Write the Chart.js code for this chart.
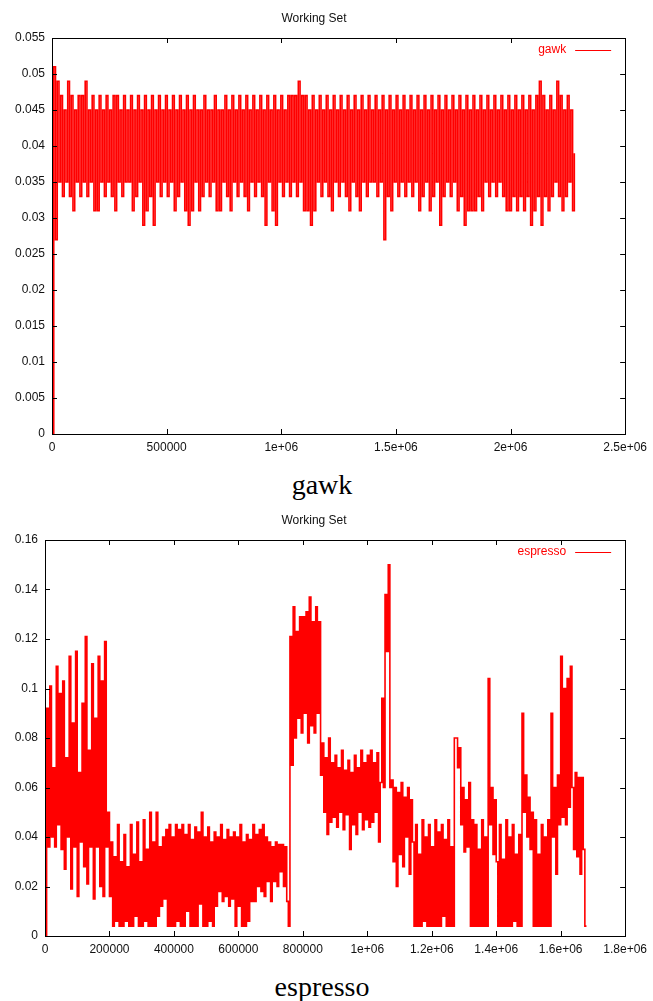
<!DOCTYPE html>
<html>
<head>
<meta charset="utf-8">
<title>Working Set</title>
<script src="https://cdn.jsdelivr.net/npm/chart.js@4.4.1/dist/chart.umd.min.js"></script>
<style>
body { margin: 0; background: #fff; width: 653px; height: 1001px; overflow: hidden; position: relative; }
canvas { position: absolute; left: 0; }
#gawkChart { top: 0; }
#espressoChart { top: 502px; }
.caption { position: absolute; left: 0; width: 644px; text-align: center; font-family: "Liberation Serif", "Times New Roman", serif; font-size: 28px; line-height: 28px; color: #000; }
</style>
</head>
<body>
<canvas id="gawkChart" width="653" height="460"></canvas>
<div class="caption" style="top:471px">gawk</div>
<canvas id="espressoChart" width="653" height="460"></canvas>
<div class="caption" style="top:973px">espresso</div>
<script>
// gawk working set, one sample every 7620 references
var gawkStep = 7620;
var gawkValues = [
    0, 0.051, 0.027, 0.049, 0.035, 0.047, 0.033, 0.045, 0.035, 0.049,
    0.033, 0.047, 0.031, 0.045, 0.035, 0.047, 0.033, 0.047, 0.035, 0.049,
    0.033, 0.045, 0.035, 0.047, 0.031, 0.045, 0.031, 0.047, 0.035, 0.045,
    0.033, 0.047, 0.035, 0.045, 0.033, 0.047, 0.031, 0.047, 0.035, 0.045,
    0.033, 0.047, 0.035, 0.045, 0.035, 0.047, 0.031, 0.045, 0.033, 0.047,
    0.035, 0.045, 0.029, 0.047, 0.031, 0.045, 0.033, 0.047, 0.029, 0.045,
    0.035, 0.047, 0.033, 0.045, 0.035, 0.047, 0.033, 0.045, 0.035, 0.047,
    0.031, 0.045, 0.033, 0.047, 0.035, 0.045, 0.031, 0.047, 0.029, 0.045,
    0.031, 0.047, 0.035, 0.045, 0.031, 0.045, 0.033, 0.047, 0.035, 0.045,
    0.033, 0.045, 0.035, 0.047, 0.031, 0.045, 0.031, 0.045, 0.035, 0.047,
    0.033, 0.045, 0.031, 0.047, 0.035, 0.045, 0.033, 0.047, 0.035, 0.045,
    0.033, 0.047, 0.031, 0.045, 0.035, 0.047, 0.033, 0.045, 0.035, 0.047,
    0.033, 0.045, 0.029, 0.047, 0.035, 0.045, 0.031, 0.047, 0.029, 0.045,
    0.035, 0.047, 0.033, 0.045, 0.035, 0.047, 0.033, 0.047, 0.035, 0.047,
    0.033, 0.049, 0.035, 0.047, 0.031, 0.047, 0.031, 0.045, 0.029, 0.047,
    0.031, 0.045, 0.035, 0.047, 0.033, 0.045, 0.035, 0.047, 0.033, 0.045,
    0.031, 0.047, 0.035, 0.045, 0.033, 0.047, 0.035, 0.045, 0.033, 0.047,
    0.031, 0.045, 0.035, 0.047, 0.033, 0.045, 0.031, 0.047, 0.035, 0.045,
    0.033, 0.047, 0.035, 0.045, 0.035, 0.047, 0.033, 0.045, 0.035, 0.047,
    0.027, 0.045, 0.033, 0.047, 0.031, 0.045, 0.035, 0.047, 0.033, 0.045,
    0.035, 0.047, 0.033, 0.045, 0.035, 0.047, 0.033, 0.045, 0.035, 0.047,
    0.031, 0.045, 0.033, 0.047, 0.035, 0.045, 0.031, 0.047, 0.033, 0.045,
    0.035, 0.047, 0.029, 0.045, 0.033, 0.047, 0.035, 0.045, 0.033, 0.047,
    0.035, 0.045, 0.031, 0.047, 0.033, 0.045, 0.029, 0.047, 0.031, 0.045,
    0.031, 0.047, 0.031, 0.045, 0.033, 0.047, 0.031, 0.045, 0.035, 0.047,
    0.033, 0.045, 0.035, 0.047, 0.033, 0.045, 0.035, 0.047, 0.033, 0.045,
    0.031, 0.047, 0.031, 0.045, 0.033, 0.047, 0.031, 0.045, 0.033, 0.047,
    0.031, 0.045, 0.033, 0.047, 0.029, 0.045, 0.031, 0.047, 0.033, 0.049,
    0.029, 0.047, 0.033, 0.045, 0.031, 0.047, 0.033, 0.045, 0.035, 0.049,
    0.033, 0.047, 0.031, 0.045, 0.033, 0.047, 0.035, 0.045, 0.031, 0.039
];
var gawkXTicks = [0, 500000, 1000000, 1500000, 2000000, 2500000];
var gawkXLabels = ['0', '500000', '1e+06', '1.5e+06', '2e+06', '2.5e+06'];
var gawkYTicks = [0, 0.005, 0.01, 0.015, 0.02, 0.025, 0.03, 0.035, 0.04, 0.045, 0.05, 0.055];
var gawkYLabels = ['0', '0.005', '0.01', '0.015', '0.02', '0.025', '0.03', '0.035', '0.04', '0.045', '0.05', '0.055'];

// espresso working set, one sample every 5000 references
var espressoStep = 5000;
var espressoValues = [
    0, 0.092, 0.036, 0.101, 0.04, 0.068, 0.036, 0.109, 0.045, 0.098,
    0.035, 0.103, 0.027, 0.072, 0.04, 0.113, 0.019, 0.086, 0.036, 0.115,
    0.016, 0.066, 0.038, 0.094, 0.028, 0.121, 0.021, 0.075, 0.036, 0.11,
    0.015, 0.088, 0.036, 0.113, 0.02, 0.103, 0.016, 0.119, 0.036, 0.05,
    0.016, 0.038, 0.004, 0.032, 0.006, 0.045, 0.004, 0.03, 0.004, 0.041,
    0.006, 0.028, 0.004, 0.045, 0.004, 0.033, 0.008, 0.046, 0.004, 0.03,
    0.004, 0.047, 0.006, 0.035, 0.004, 0.05, 0.004, 0.038, 0.004, 0.05,
    0.008, 0.036, 0.012, 0.04, 0.015, 0.043, 0.004, 0.045, 0.004, 0.04,
    0.004, 0.045, 0.006, 0.043, 0.004, 0.045, 0.004, 0.041, 0.01, 0.045,
    0.004, 0.039, 0.004, 0.044, 0.004, 0.042, 0.013, 0.05, 0.004, 0.04,
    0.004, 0.044, 0.006, 0.038, 0.004, 0.042, 0.012, 0.04, 0.018, 0.045,
    0.014, 0.039, 0.016, 0.043, 0.012, 0.04, 0.015, 0.042, 0.004, 0.04,
    0.012, 0.045, 0.004, 0.038, 0.004, 0.041, 0.006, 0.039, 0.014, 0.045,
    0.014, 0.041, 0.02, 0.043, 0.018, 0.045, 0.016, 0.04, 0.022, 0.038,
    0.014, 0.036, 0.022, 0.038, 0.02, 0.037, 0.026, 0.037, 0.02, 0.036,
    0.014, 0.004, 0.121, 0.069, 0.133, 0.08, 0.123, 0.088, 0.129, 0.082,
    0.129, 0.09, 0.131, 0.078, 0.137, 0.085, 0.127, 0.082, 0.133, 0.09,
    0.127, 0.065, 0.078, 0.05, 0.072, 0.041, 0.08, 0.046, 0.07, 0.048,
    0.073, 0.044, 0.068, 0.05, 0.075, 0.043, 0.067, 0.049, 0.071, 0.035,
    0.066, 0.045, 0.073, 0.041, 0.068, 0.05, 0.075, 0.043, 0.07, 0.047,
    0.073, 0.044, 0.075, 0.046, 0.07, 0.05, 0.074, 0.038, 0.062, 0.096,
    0.06, 0.138, 0.115, 0.15, 0.06, 0.063, 0.03, 0.06, 0.02, 0.058,
    0.033, 0.062, 0.028, 0.056, 0.04, 0.06, 0.025, 0.055, 0.038, 0.004,
    0.045, 0.004, 0.033, 0.004, 0.047, 0.006, 0.04, 0.004, 0.045, 0.004,
    0.036, 0.004, 0.047, 0.004, 0.042, 0.004, 0.045, 0.008, 0.039, 0.004,
    0.047, 0.004, 0.036, 0.004, 0.08, 0.08, 0.068, 0.076, 0.045, 0.06,
    0.034, 0.055, 0.036, 0.062, 0.004, 0.047, 0.004, 0.045, 0.004, 0.035,
    0.004, 0.047, 0.004, 0.04, 0.004, 0.104, 0.045, 0.06, 0.033, 0.055,
    0.03, 0.004, 0.045, 0.004, 0.031, 0.004, 0.047, 0.004, 0.04, 0.004,
    0.045, 0.006, 0.033, 0.004, 0.041, 0.004, 0.09, 0.05, 0.065, 0.04,
    0.056, 0.035, 0.05, 0.004, 0.047, 0.004, 0.033, 0.004, 0.045, 0.004,
    0.04, 0.004, 0.047, 0.004, 0.09, 0.04, 0.06, 0.025, 0.065, 0.045,
    0.113, 0.048, 0.1, 0.045, 0.104, 0.052, 0.109, 0.06, 0.035, 0.066,
    0.032, 0.064, 0.025, 0.064, 0.035, 0.004, 0.004
];
var espressoXTicks = [0, 200000, 400000, 600000, 800000, 1000000, 1200000, 1400000, 1600000, 1800000];
var espressoXLabels = ['0', '200000', '400000', '600000', '800000', '1e+06', '1.2e+06', '1.4e+06', '1.6e+06', '1.8e+06'];
var espressoYTicks = [0, 0.02, 0.04, 0.06, 0.08, 0.1, 0.12, 0.14, 0.16];
var espressoYLabels = ['0', '0.02', '0.04', '0.06', '0.08', '0.1', '0.12', '0.14', '0.16'];

var textFont = { family: 'Liberation Sans', size: 12, weight: 'normal' };

// gnuplot style box: border, inward ticks on all four sides, key in the top right corner
var frame = {
    id: 'frame',
    afterDatasetsDraw: function (chart, args, opts) {
        var ctx = chart.ctx, a = chart.chartArea, x = chart.scales.x, y = chart.scales.y;
        ctx.save();
        ctx.strokeStyle = '#000';
        ctx.lineWidth = 1;
        ctx.beginPath();
        x.ticks.forEach(function (t) {
            var px = Math.round(x.getPixelForValue(t.value)) + 0.5;
            ctx.moveTo(px, a.bottom); ctx.lineTo(px, a.bottom - 5);
            ctx.moveTo(px, a.top); ctx.lineTo(px, a.top + 5);
        });
        y.ticks.forEach(function (t) {
            var py = Math.round(y.getPixelForValue(t.value)) + 0.5;
            ctx.moveTo(a.left, py); ctx.lineTo(a.left + 5, py);
            ctx.moveTo(a.right, py); ctx.lineTo(a.right - 5, py);
        });
        ctx.stroke();
        ctx.strokeRect(Math.round(a.left) + 0.5, Math.round(a.top) + 0.5,
            Math.round(a.right - a.left), Math.round(a.bottom - a.top));

        ctx.fillStyle = '#ff0000';
        ctx.font = '12px "Liberation Sans"';
        ctx.textAlign = 'right';
        ctx.textBaseline = 'middle';
        ctx.fillText(opts.label, a.right - 59, a.top + 12);
        ctx.strokeStyle = '#ff0000';
        ctx.beginPath();
        ctx.moveTo(a.right - 50, a.top + 12.5);
        ctx.lineTo(a.right - 14, a.top + 12.5);
        ctx.stroke();
        ctx.restore();
    }
};

function workingSetChart(id, name, step, values, xTicks, xLabels, yTicks, yLabels, yWidth) {
    var points = values.map(function (v, i) { return { x: i * step, y: v }; });
    return new Chart(document.getElementById(id).getContext('2d'), {
        type: 'line',
        data: {
            datasets: [{
                label: name,
                data: points,
                borderColor: '#ff0000',
                borderWidth: 1.6,
                pointRadius: 0,
                stepped: true,
                fill: false
            }]
        },
        options: {
            responsive: false,
            animation: false,
            devicePixelRatio: 1,
            layout: { padding: { left: 0, right: 25, top: 0, bottom: 0 } },
            plugins: {
                legend: { display: false },
                tooltip: { enabled: false },
                title: {
                    display: true,
                    text: 'Working Set',
                    color: '#111',
                    font: textFont,
                    padding: { top: 11, bottom: 12.6 }
                },
                frame: { label: name }
            },
            scales: {
                x: {
                    type: 'linear',
                    min: xTicks[0],
                    max: xTicks[xTicks.length - 1],
                    grid: { display: false, drawTicks: false },
                    border: { display: false },
                    afterBuildTicks: function (s) { s.ticks = xTicks.map(function (v) { return { value: v }; }); },
                    afterFit: function (s) { s.height = 26; },
                    ticks: {
                        autoSkip: false,
                        maxRotation: 0,
                        padding: 6,
                        color: '#111',
                        font: textFont,
                        callback: function (v, i) { return xLabels[i]; }
                    }
                },
                y: {
                    type: 'linear',
                    min: yTicks[0],
                    max: yTicks[yTicks.length - 1],
                    grid: { display: false, drawTicks: false },
                    border: { display: false },
                    afterBuildTicks: function (s) { s.ticks = yTicks.map(function (v) { return { value: v }; }); },
                    afterFit: function (s) { s.width = yWidth; },
                    ticks: {
                        autoSkip: false,
                        padding: 7,
                        color: '#111',
                        font: textFont,
                        callback: function (v, i) { return yLabels[i]; }
                    }
                }
            }
        },
        plugins: [frame]
    });
}

var gawkChart = workingSetChart('gawkChart', 'gawk', gawkStep, gawkValues,
    gawkXTicks, gawkXLabels, gawkYTicks, gawkYLabels, 52);
var espressoChart = workingSetChart('espressoChart', 'espresso', espressoStep, espressoValues,
    espressoXTicks, espressoXLabels, espressoYTicks, espressoYLabels, 45);
</script>
</body>
</html>
